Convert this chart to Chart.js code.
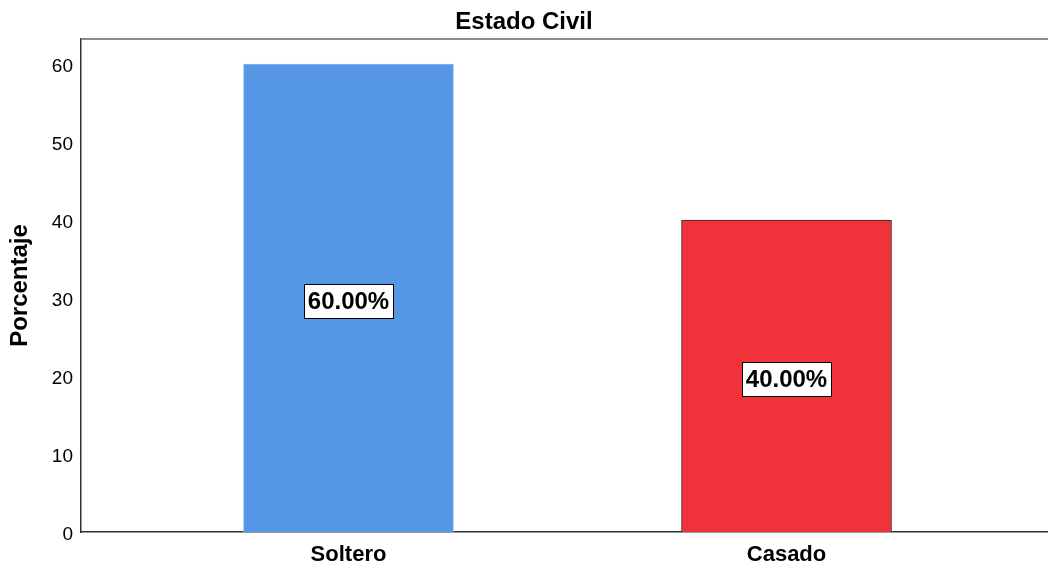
<!DOCTYPE html>
<html>
<head>
<meta charset="utf-8">
<script src="https://cdn.jsdelivr.net/npm/chart.js@4/dist/chart.umd.min.js"></script>
<style>
  html, body { margin: 0; padding: 0; background: #fff; }
  #wrap { width: 1048px; height: 565px; }
</style>
</head>
<body>
<div id="wrap"><canvas id="c" width="1048" height="565"></canvas></div>
<script>
const categories = ['Soltero', 'Casado'];
const percentValues = [60, 40];
const yTickValues = [0, 10, 20, 30, 40, 50, 60];
const barColors = ['#5596e5', '#f0323a'];
const barBorders = ['#8fbaf0', '#2b2b2b'];

const FONT = '"Liberation Sans", Arial, sans-serif';

const frameTop = {
  id: 'frameTop',
  afterDraw(chart) {
    const { ctx, chartArea } = chart;
    ctx.save();
    ctx.strokeStyle = '#8c8c8c';
    ctx.lineWidth = 2;
    ctx.beginPath();
    ctx.moveTo(chartArea.left, chartArea.top);
    ctx.lineTo(chartArea.right, chartArea.top);
    ctx.stroke();
    ctx.restore();
  }
};

const valueBoxes = {
  id: 'valueBoxes',
  afterDatasetsDraw(chart) {
    const { ctx } = chart;
    const meta = chart.getDatasetMeta(0);
    const yScale = chart.scales.y;
    ctx.save();
    ctx.font = 'bold 24px ' + FONT;
    ctx.textAlign = 'center';
    ctx.textBaseline = 'middle';
    meta.data.forEach((el, i) => {
      const v = percentValues[i];
      const txt = v.toFixed(2) + '%';
      const cx = el.x;
      const cy = yScale.getPixelForValue(v / 2) + 3.5;
      const w = Math.round(ctx.measureText(txt).width + 8);
      const h = 34;
      const x0 = Math.round(cx - w / 2) + 0.5;
      const y0 = Math.round(cy - h / 2) + 0.5;
      ctx.fillStyle = '#ffffff';
      ctx.fillRect(x0, y0, w, h);
      ctx.strokeStyle = '#000000';
      ctx.lineWidth = 1;
      ctx.strokeRect(x0, y0, w, h);
      ctx.fillStyle = '#000000';
      ctx.fillText(txt, cx, cy + 1);
    });
    ctx.restore();
  }
};

new Chart(document.getElementById('c'), {
  type: 'bar',
  data: {
    datasets: [{
      data: categories.map((c, i) => ({ x: i, y: percentValues[i] })),
      backgroundColor: barColors,
      borderColor: barBorders,
      borderWidth: 1,
      barThickness: 210
    }]
  },
  plugins: [frameTop, valueBoxes],
  options: {
    responsive: false,
    animation: false,
    layout: { padding: 0 },
    plugins: {
      legend: { display: false },
      tooltip: { enabled: false },
      title: {
        display: true,
        text: 'Estado Civil',
        color: '#000',
        font: { family: FONT, size: 24, weight: 'bold', lineHeight: 1.2 },
        padding: { top: 8, bottom: 2.2 }
      }
    },
    scales: {
      x: {
        type: 'linear',
        offset: false,
        min: -0.6107,
        max: 1.597,
        grid: { display: false, drawTicks: false, offset: false },
        border: { display: true, color: '#333', width: 1.5 },
        afterBuildTicks(scale) {
          scale.ticks = categories.map((c, i) => ({ value: i }));
        },
        afterFit(scale) {
          scale.height = 33;
          scale.paddingLeft = 0;
          scale.paddingRight = 0;
        },
        ticks: {
          color: '#000',
          padding: 10,
          maxRotation: 0,
          autoSkip: false,
          font: { family: FONT, size: 22, weight: 'bold' },
          callback: (v) => categories[v] ?? ''
        }
      },
      y: {
        min: 0,
        max: 63.2,
        grid: { display: false, drawTicks: false },
        border: { display: true, color: '#333', width: 1.5 },
        afterBuildTicks(scale) {
          scale.ticks = yTickValues.map(v => ({ value: v }));
        },
        afterFit(scale) {
          scale.width = 81;
          scale.paddingTop = 0;
          scale.paddingBottom = 0;
        },
        title: {
          display: true,
          text: 'Porcentaje',
          color: '#000',
          font: { family: FONT, size: 24, weight: 'bold' },
          padding: { top: 6, bottom: 0 }
        },
        ticks: {
          color: '#000',
          padding: 8,
          labelOffset: 3,
          font: { family: FONT, size: 19 },
          callback: (v) => String(v)
        }
      }
    }
  }
});
</script>
</body>
</html>
